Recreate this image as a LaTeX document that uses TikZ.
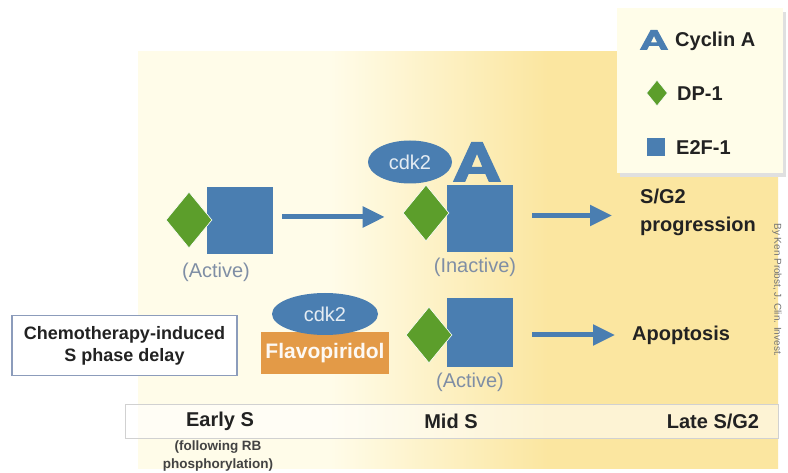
\documentclass[tikz,border=0pt]{standalone}
\usepackage{fontspec}
\setmainfont{Liberation Sans}
\usetikzlibrary{shapes.geometric,arrows.meta,calc}
\definecolor{eblue}{HTML}{4A7EB1}
\definecolor{dgreen}{HTML}{5C9E2B}
\definecolor{flav}{HTML}{E39A47}
\definecolor{pale}{HTML}{FFFCE9}
\definecolor{yel}{HTML}{FBE6A0}
\definecolor{legbg}{HTML}{FFFDE9}
\definecolor{actg}{HTML}{7F8EA5}
\definecolor{chemb}{HTML}{8C9CBB}
\definecolor{txt}{HTML}{222222}
\pgfdeclarehorizontalshading{bgshade}{100bp}{color(0bp)=(pale); color(40bp)=(pale); color(57bp)=(yel); color(100bp)=(yel)}
\tikzset{
  cyclinA/.pic={\fill[eblue, even odd rule]
    (-0.55,0.5) -- (-0.13,-0.5) -- (0.13,-0.5) -- (0.55,0.5) -- (0.27,0.5)
    -- (0.19,0.3) -- (-0.19,0.3) -- (-0.27,0.5) -- cycle
    (0,-0.2) -- (0.12,0.12) -- (-0.12,0.12) -- cycle;}
}
\begin{document}
\begin{tikzpicture}[x=1pt,y=-1pt,
  e2f/.style={rectangle, fill=eblue, inner sep=0pt, minimum width=66pt, minimum height=67pt},
  dp/.style={diamond, fill=dgreen, draw=white, line width=0.6pt, inner sep=0pt, minimum width=46pt, minimum height=56pt},
  cdk/.style={ellipse, fill=eblue, inner sep=0pt, text=white!85!eblue, font=\fontsize{20}{22}\selectfont},
  lab/.style={font=\bfseries\fontsize{20}{28}\selectfont, text=txt, inner sep=0pt},
  statelab/.style={font=\fontsize{20}{22}\selectfont, text=actg, inner sep=0pt},
  flow/.style={draw=eblue, line width=5pt, -{Triangle[length=22pt,width=20pt]}},
]
\useasboundingbox (0,0) rectangle (788,473);
% background
\fill[white] (0,0) rectangle (788,473);
\shade[shading=bgshade] (138,52) rectangle (778,468);
% legend
\fill[black!12] (620,12) rectangle (786,177);
\node[rectangle, fill=legbg, minimum width=166pt, minimum height=165pt, inner sep=0pt] (legend) at (700,90.5) {};
\pic[xscale=26, yscale=20] at (654,40) {cyclinA};
\node[lab, anchor=west] (lcyc) at (675,41) {Cyclin A};
\node[dp, minimum width=21pt, minimum height=26pt] (ldp) at (657,93) {};
\node[lab, anchor=west] (ldpt) at (677,94) {DP-1};
\node[e2f, minimum width=18pt, minimum height=18pt] (le2f) at (656,147) {};
\node[lab, anchor=west] (le2ft) at (676,148) {E2F-1};
% row 1, left
\node[e2f] (sqA) at (240,221) {};
\node[dp] (dpA) at (189,220) {};
\node[statelab] (actA) at (216,272) {(Active)};
% row 1, middle
\node[cdk, minimum width=84pt, minimum height=43pt] (cdkB) at (410,162) {cdk2};
\pic[xscale=44, yscale=40] at (477,162) {cyclinA};
\node[e2f] (sqB) at (480,218.5) {};
\node[dp] (dpB) at (426,213) {};
\node[statelab] (inB) at (475,267) {(Inactive)};
\node[lab, anchor=west, align=left] (sg) at (640,212) {S/G2\\progression};
\draw[flow, shorten <=9pt, shorten >=18pt] ([yshift=4pt]sqA.east) -- ([yshift=4pt]sqA.east -| dpB.west);
\draw[flow, shorten <=19pt, shorten >=28pt] ([yshift=3pt]sqB.east) -- ([yshift=3pt]sqB.east -| sg.west);
% row 2
\node[rectangle, fill=flav, minimum width=128pt, minimum height=42pt, inner sep=0pt,
  font=\bfseries\fontsize{21}{24}\selectfont, text=white!94!flav] (flavo) at (325,353) {Flavopiridol};
\node[cdk, minimum width=106pt, minimum height=42pt] (cdkC) at (325,314) {cdk2};
\node[e2f, minimum height=69pt] (sqC) at (480,333) {};
\node[dp] (dpC) at (429,335) {};
\node[statelab] (actC) at (470,382) {(Active)};
\node[lab, anchor=west] (apo) at (632,335) {Apoptosis};
\draw[flow, shorten <=19pt, shorten >=17pt] ([yshift=-2pt]sqC.east) -- ([yshift=-2pt]sqC.east -| apo.west);
% chemotherapy box
\node[rectangle, draw=chemb, line width=1.5pt, fill=white, minimum width=225pt, minimum height=60pt,
  inner sep=0pt, align=center, font=\bfseries\fontsize{18}{22}\selectfont, text=txt] (chemo) at (124.5,345.5)
  {Chemotherapy-induced\\S phase delay};
% phase band
\node[rectangle, draw=black!18, fill=white, fill opacity=0.55, minimum width=653pt, minimum height=34pt, inner sep=0pt] (band) at (451.5,421) {};
\node[lab] (early) at (220,421) {Early S};
\node[lab] (mid) at (451,421) {Mid S};
\node[lab] (late) at (713,421) {Late S/G2};
\node[font=\bfseries\fontsize{13.5}{18}\selectfont, text=txt!85, align=center, inner sep=0pt] (foll) at (218,456)
  {(following RB\\phosphorylation)};
% credit
\node[rotate=-90, font=\fontsize{10}{11}\selectfont, text=black!55, inner sep=0pt] (credit) at (777,290)
  {By Ken Probst, J. Clin. Invest.};
\end{tikzpicture}
\end{document}
